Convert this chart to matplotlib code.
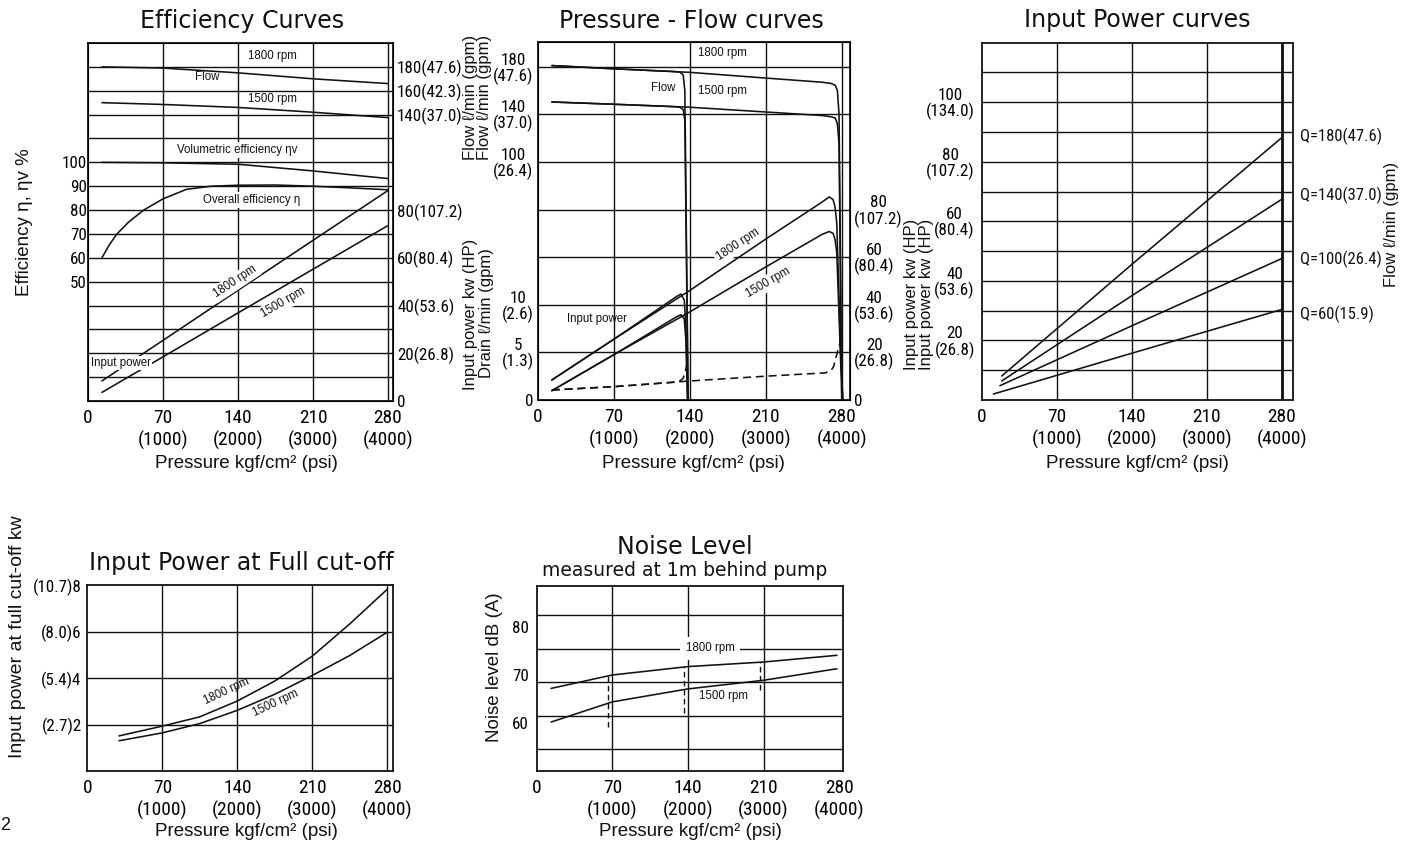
import os
import numpy as np
import matplotlib
matplotlib.use('Agg')
import matplotlib.pyplot as plt
from matplotlib import font_manager as fm
from matplotlib.textpath import TextPath

# ---------------------------------------------------------------- data
pressure_ticks = [0, 70, 140, 210, 280]
pressure_labels = ['0', '70\n(1000)', '140\n(2000)', '210\n(3000)', '280\n(4000)']

# Efficiency curves
eff_p = [13, 70, 140, 210, 280]
eff_flow_1800 = [180, 179, 175, 170, 166]
eff_flow_1500 = [150, 148.5, 146, 142, 137.5]
eff_volumetric = [100, 99.8, 99.2, 96.4, 93.2]
eff_overall_p = [13, 20, 27, 38, 52, 70, 92, 115, 140, 175, 210, 245, 280]
eff_overall = [60, 65.5, 70, 75, 80, 84.7, 88.7, 90, 90.4, 90.5, 90, 89.3, 88.5]
eff_power_1800 = [8.4, 25.4, 46.4, 67.3, 88.2]
eff_power_1500 = [3.6, 18.5, 36.9, 55.2, 73.5]
eff_left_ticks = [50, 60, 70, 80, 90, 100]
eff_power_ticks = [0, 20, 40, 60, 80]
eff_power_labels = ['0', '20(26.8)', '40(53.6)', '60(80.4)', '80(107.2)']
eff_flow_ticks = [140, 160, 180]
eff_flow_labels = ['140(37.0)', '160(42.3)', '180(47.6)']

# Pressure - Flow curves (flow drops run to the bottom of the flow scale, -100)
pf_flow_p = [13, 70, 140, 210, 262, 270, 274, 276, 277.5, 280]
pf_flow_1800 = [181, 178.3, 175.3, 170.5, 167, 166, 164.5, 160, 140, -100]
pf_flow_1500 = [150.4, 148.5, 146, 142, 139, 138, 137, 132, 115, -100]
pf_flow140_p = [13, 70, 125, 131, 134, 135.5, 138.5]
pf_flow140_1800 = [181, 178.3, 176, 175.5, 173, 160, -100]
pf_flow140_1500 = [150.4, 148.5, 146.5, 146, 144, 135, -100]
pf_power_p = [13, 70, 140, 210, 262, 268.5, 272, 273.8, 275.4, 277, 279, 281]
pf_power_1800 = [8.4, 25.5, 46.0, 67.6, 83.2, 85.3, 84.2, 81.2, 74.4, 50, 20, 0]
pf_power_1500 = [3.9, 19.0, 37.0, 55.9, 69.6, 70.8, 70.0, 67.5, 62, 42, 16, 0]
pf_power140_p = [13, 70, 128, 132, 135, 136.5, 138]
pf_power140_1800 = [8.4, 25.5, 43.5, 44.5, 42, 30, 0]
pf_power140_1500 = [3.9, 19.0, 35, 35.8, 34, 25, 0]
pf_drain_p = [13, 70, 140, 210, 265, 270, 272.5, 275, 278.4]
pf_drain = [1.05, 1.4, 2.0, 2.5, 2.85, 3.1, 3.5, 4.6, 6.0]
pf_drain140_p = [13, 70, 130, 134, 136, 137.5]
pf_drain140 = [1.05, 1.4, 1.9, 2.3, 3.0, 3.9]
pf_drain_ticks = [0, 5, 10]
pf_drain_labels = ['0', '5\n(1.3)', '10\n(2.6)']
pf_flow_ticks = [100, 140, 180]
pf_flow_labels = ['100\n(26.4)', '140\n(37.0)', '180\n(47.6)']
pf_power_ticks = [0, 20, 40, 60, 80]
pf_power_labels = ['0', '20\n(26.8)', '40\n(53.6)', '60\n(80.4)', '80\n(107.2)']

# Input Power curves (per flow setting)
ip_flows = ['Q=180(47.6)', 'Q=140(37.0)', 'Q=100(26.4)', 'Q=60(15.9)']
ip_p = [[18.7, 140, 280], [18.7, 140, 280], [17, 140, 280], [10.9, 140, 280]]
ip_kw = [[8.05, 45.5, 88.1], [6.4, 35.0, 67.4], [4.8, 24.9, 47.5], [2.0, 15.7, 30.4]]
ip_ticks = [20, 40, 60, 80, 100]
ip_labels = ['20\n(26.8)', '40\n(53.6)', '60\n(80.4)', '80\n(107.2)', '100\n(134.0)']

# Input Power at Full cut-off
co_p = [29.6, 70, 105, 140, 175, 210, 245, 280]
co_1800 = [1.51, 1.93, 2.33, 3.01, 3.87, 4.94, 6.33, 7.82]
co_1500 = [1.30, 1.64, 2.04, 2.61, 3.30, 4.11, 4.97, 5.97]
co_ticks = [2, 4, 6, 8]
co_labels = ['(2.7)2', '(5.4)4', '(8.0)6', '(10.7)8']

# Noise level
nz_p = [13.3, 70, 140, 210, 278]
nz_1800 = [67.2, 70.0, 71.75, 72.7, 74.1]
nz_1500 = [60.2, 64.4, 67.1, 68.9, 71.3]
nz_jump_p = [65.6, 136.7, 206.8]
nz_jump_top = [70.0, 71.7, 72.7]
nz_jump_bottom = [59.1, 62.0, 66.8]
nz_ticks = [60, 70, 80]

# ---------------------------------------------------------------- style
W, H, DPI = 1413, 844, 100
fig = plt.figure(figsize=(W / DPI, H / DPI), dpi=DPI)

REG = 'Liberation Sans'
TITLE_FONT = 'DejaVu Sans'
plt.rcParams['font.family'] = [REG, 'DejaVu Sans']


def find_condensed():
    bad = ('bold', 'italic', 'oblique', 'light', 'thin', 'black', 'medium',
           'semi', 'extra', 'heavy')
    ranks = [('liberationsansnarrow', 0), ('robotocondensed', 1),
             ('dejavusanscondensed', 2), ('condensed', 3), ('narrow', 3)]
    best = None
    for f in fm.fontManager.ttflist:
        base = os.path.basename(f.fname).lower().replace('-', '').replace('_', '')
        if any(b in base.replace('regular', '') for b in bad):
            continue
        for key, rk in ranks:
            if key in base:
                if best is None or rk < best[0]:
                    best = (rk, f.fname)
                break
    if best is None:
        return fm.FontProperties(family=REG)
    return fm.FontProperties(fname=best[1])


NFP = find_condensed()


def fit_pt(text, target_px, max_pt, fp):
    w = TextPath((0, 0), text, size=1, prop=fp).get_extents().width
    return min(target_px / w * 72.0 / DPI, max_pt)


XT = fit_pt('(1000)', 48, 15.5, NFP)
YT = fit_pt('180(47.6)', 63, 13.5, NFP)
QT = fit_pt('Q=180(47.6)', 80, 12.5, NFP)


def nfp(size):
    p = NFP.copy()
    p.set_size(size)
    return p


INK = '#111111'
LW = 1.15
ANN = 8.3
LAB = 13.5
TFS = 17


def ftext(x, y, s, **kw):
    kw.setdefault('ha', 'center')
    kw.setdefault('va', 'center')
    kw.setdefault('color', INK)
    return fig.text(x / W, 1 - y / H, s, **kw)


def panel(l, t, r, b, xmax, ylim, ygrid, xgrid=pressure_ticks[1:]):
    ax = fig.add_axes([l / W, 1 - b / H, (r - l) / W, (b - t) / H])
    ax.set_xlim(0, xmax)
    ax.set_ylim(*ylim)
    ax.xaxis.remove_overlapping_locs = False
    ax.yaxis.remove_overlapping_locs = False
    for s in ax.spines.values():
        s.set_linewidth(1.3)
        s.set_color(INK)
    ax.set_xticks(xgrid, minor=True)
    ax.set_yticks(ygrid, minor=True)
    ax.grid(True, which='minor', color=INK, lw=1.0)
    ax.set_xticks(pressure_ticks, pressure_labels, fontproperties=nfp(XT))
    for lab in ax.get_xticklabels():
        lab.set_linespacing(1.3)
    ax.set_yticks([])
    ax.tick_params(which='both', length=0)
    ax.tick_params(axis='x', pad=5.5)
    return ax


def ylabels(ax, ticks, labels, side='left', pad=2, ls=1.0):
    ax.yaxis.remove_overlapping_locs = False
    ax.set_yticks(ticks, labels, fontproperties=nfp(YT))
    ax.tick_params(axis='y', which='both', length=0, pad=pad)
    if side == 'right':
        ax.yaxis.tick_right()
    for lab in ax.get_yticklabels():
        lab.set_multialignment('center')
        lab.set_linespacing(ls)


def flow_to_power(f):
    return (np.asarray(f, dtype=float) + 100.0) / 2.0


def overlay(ax, ylim):
    tw = ax.twinx()
    tw.set_ylim(*ylim)
    tw.axis('off')
    return tw


line = dict(color=INK, lw=LW, solid_capstyle='round')
gapbox = dict(fc='white', ec='none', pad=1.5)

# ---------------------------------------------------------------- 1 Efficiency
ax1 = panel(88, 43, 393, 401, 284.7, (0, 150), np.arange(10, 150, 10))
ax1.plot(eff_p, eff_volumetric, **line)
ax1.plot(eff_overall_p, eff_overall, **line)
ax1.plot(eff_p, eff_power_1800, **line)
ax1.plot(eff_p, eff_power_1500, **line)
f1 = overlay(ax1, (-100, 200))
f1.plot(eff_p, eff_flow_1800, **line)
f1.plot(eff_p, eff_flow_1500, **line)
ylabels(ax1, eff_left_ticks, [str(v) for v in eff_left_ticks], pad=1)
r1 = ax1.twinx()
r1.set_ylim(0, 150)
ylabels(r1, eff_power_ticks + list(flow_to_power(eff_flow_ticks)),
        eff_power_labels + eff_flow_labels, side='right', pad=3)
ftext(242, 21, 'Efficiency Curves', fontsize=TFS, family=TITLE_FONT)
ftext(25, 222, 'Efficiency η, ηv %', fontsize=LAB, rotation=90)
ftext(246, 463, 'Pressure kgf/cm² (psi)', fontsize=LAB)
ftext(272, 56, '1800 rpm', fontsize=ANN)
ftext(207, 77, 'Flow', fontsize=ANN)
ftext(272, 99, '1500 rpm', fontsize=ANN)
ftext(237, 150, 'Volumetric efficiency ηv', fontsize=ANN, bbox=gapbox)
ftext(252, 200, 'Overall efficiency η', fontsize=ANN, bbox=gapbox)
ftext(235, 282, '1800 rpm', fontsize=ANN, rotation=33.5, rotation_mode='anchor',
      bbox=gapbox)
ftext(283, 303, '1500 rpm', fontsize=ANN, rotation=30, rotation_mode='anchor',
      bbox=gapbox)
ftext(121, 363, 'Input power', fontsize=ANN, bbox=dict(fc='white', ec='none', pad=1))

# ---------------------------------------------------------------- 2 Pressure-Flow
ax2 = panel(537.7, 42, 850, 400, 287.6, (0, 150.4), np.arange(20, 150, 20))
ax2.plot(pf_power_p, pf_power_1800, **line)
ax2.plot(pf_power_p, pf_power_1500, **line)
ax2.plot(pf_power140_p, pf_power140_1800, **line)
ax2.plot(pf_power140_p, pf_power140_1500, **line)
f2 = overlay(ax2, (-100, 200.8))
f2.plot(pf_flow_p, pf_flow_1800, **line)
f2.plot(pf_flow_p, pf_flow_1500, **line)
f2.plot(pf_flow140_p, pf_flow140_1800, **line)
f2.plot(pf_flow140_p, pf_flow140_1500, **line)
d2 = overlay(ax2, (0, 37.6))
d2.plot(pf_drain_p, pf_drain, color=INK, lw=LW, ls=(0, (5, 3)))
d2.plot(pf_drain140_p, pf_drain140, color=INK, lw=LW, ls=(0, (5, 3)))
ylabels(ax2, [4 * v for v in pf_drain_ticks] + list(flow_to_power(pf_flow_ticks)),
        pf_drain_labels + pf_flow_labels, pad=3)
r2 = ax2.twinx()
r2.set_ylim(0, 150.4)
ylabels(r2, pf_power_ticks, pf_power_labels, side='right', pad=3)
ftext(691.7, 21, 'Pressure - Flow curves', fontsize=TFS, family=TITLE_FONT)
ftext(471, 97, 'Flow ℓ/min (gpm)', fontsize=12, rotation=90)
ftext(484, 97, 'Flow ℓ/min (gpm)', fontsize=12, rotation=90)
ftext(471, 314, 'Input power kw (HP)', fontsize=12, rotation=90)
ftext(487, 313, 'Drain ℓ/min (gpm)', fontsize=12, rotation=90)
ftext(693, 463, 'Pressure kgf/cm² (psi)', fontsize=LAB)
ftext(722, 53, '1800 rpm', fontsize=ANN)
ftext(663, 88, 'Flow', fontsize=ANN)
ftext(723, 91, '1500 rpm', fontsize=ANN)
ftext(597, 319, 'Input power', fontsize=ANN)
ftext(738, 245, '1800 rpm', fontsize=ANN, rotation=33.4, rotation_mode='anchor',
      bbox=gapbox)
ftext(768, 283, '1500 rpm', fontsize=ANN, rotation=30, rotation_mode='anchor',
      bbox=gapbox)

# ---------------------------------------------------------------- 3 Input Power
ax3 = panel(981.7, 42.7, 1293.3, 400, 290.8, (0, 120), np.arange(10, 120, 10))
ax3.axvline(280, color=INK, lw=2.0)
for p, kw in zip(ip_p, ip_kw):
    ax3.plot(p, kw, **line)
ylabels(ax3, ip_ticks, ip_labels, pad=5)
ftext(1137.5, 20, 'Input Power curves', fontsize=TFS, family=TITLE_FONT)
ftext(911.5, 294, 'Input power kw (HP)', fontsize=12, rotation=90)
ftext(926, 294, 'Input power kw (HP)', fontsize=12, rotation=90)
ftext(1391.7, 224.5, 'Flow ℓ/min (gpm)', fontsize=12, rotation=90)
ftext(1137, 463, 'Pressure kgf/cm² (psi)', fontsize=LAB)
for lab, yy in zip(ip_flows, [136.7, 195, 259, 314.3]):
    ftext(1300, yy, lab, fontproperties=nfp(QT), ha='left')

# ---------------------------------------------------------------- 4 Full cut-off
ax4 = panel(87.3, 585, 392.7, 771, 285, (0, 8), [2, 4, 6])
ax4.plot(co_p, co_1800, **line)
ax4.plot(co_p, co_1500, **line)
ylabels(ax4, co_ticks, co_labels, pad=4)
ftext(241.7, 563, 'Input Power at Full cut-off', fontsize=TFS, family=TITLE_FONT)
ftext(18, 636.7, 'Input power at full cut-off kw', fontsize=14, rotation=90)
ftext(246, 831, 'Pressure kgf/cm² (psi)', fontsize=LAB)
ftext(226.7, 691.7, '1800 rpm', fontsize=ANN, rotation=25, rotation_mode='anchor')
ftext(276, 703.3, '1500 rpm', fontsize=ANN, rotation=25, rotation_mode='anchor')
ftext(5, 826, '2', fontsize=13)

# ---------------------------------------------------------------- 5 Noise
ax5 = panel(536.7, 585.7, 842.7, 771, 283.3, (50, 88.6), np.arange(54.5, 86, 7),
            xgrid=pressure_ticks[1:4])
ax5.plot(nz_p, nz_1800, **line)
ax5.plot(nz_p, nz_1500, **line)
ax5.vlines(nz_jump_p, nz_jump_bottom, nz_jump_top, colors=INK, lw=1.0,
           linestyles=[(0, (4, 2.5))])
ylabels(ax5, nz_ticks, [str(v) for v in nz_ticks], pad=5.5)
ftext(685, 547, 'Noise Level', fontsize=TFS, family=TITLE_FONT)
ftext(685, 570, 'measured at 1m behind pump', fontsize=13.5, family=TITLE_FONT)
ftext(495, 667.5, 'Noise level dB (A)', fontsize=LAB, rotation=90)
ftext(690, 831, 'Pressure kgf/cm² (psi)', fontsize=LAB)
ftext(710, 648.3, '1800 rpm', fontsize=ANN, bbox=dict(fc='white', ec='none', pad=4))
ftext(723.3, 695.7, '1500 rpm', fontsize=ANN)

fig.savefig('out.png', dpi=DPI, facecolor='white')
